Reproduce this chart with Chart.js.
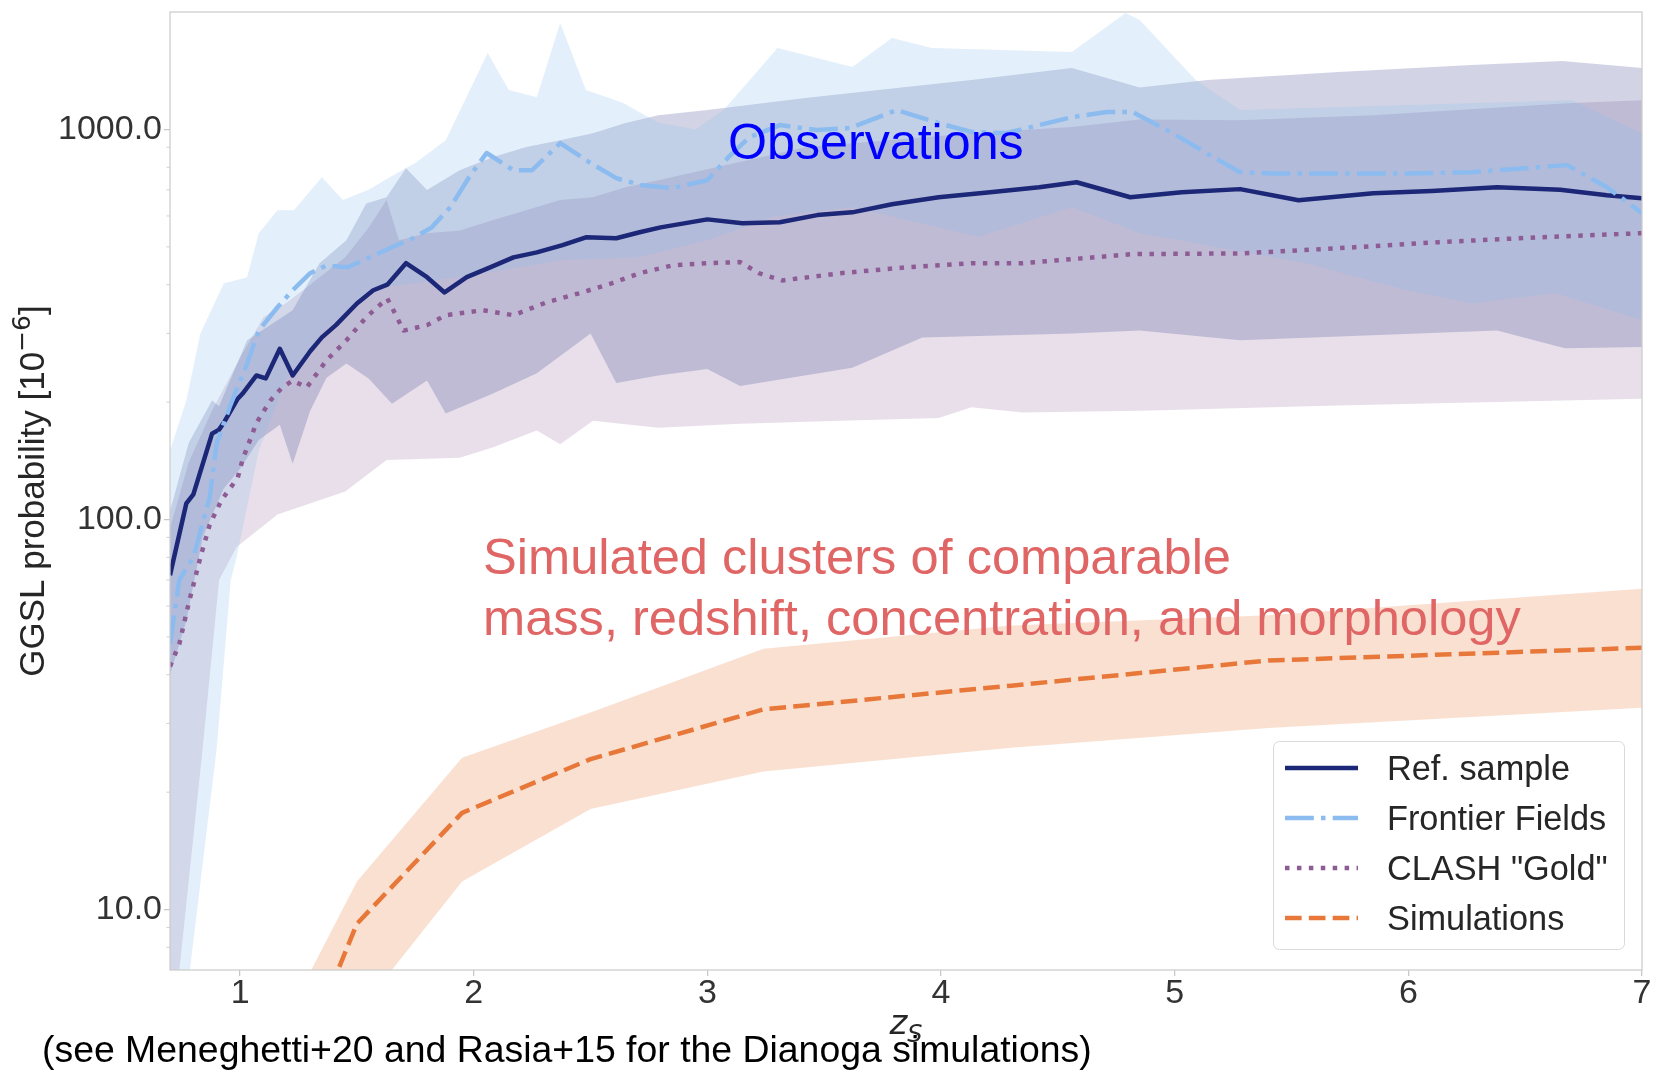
<!DOCTYPE html>
<html>
<head>
<meta charset="utf-8">
<title>GGSL probability vs source redshift</title>
<script src="https://cdn.jsdelivr.net/npm/chart.js@4.4.1/dist/chart.umd.min.js"></script>
<style>
  html, body { margin: 0; padding: 0; background: #ffffff; }
  canvas { display: block; }
</style>
</head>
<body>
<canvas id="ggsl" width="1656" height="1072" style="width:1656px;height:1072px"></canvas>
<script>
// ---- axis ticks ----
const xTicks = [1, 2, 3, 4, 5, 6, 7];
const yTicks = [10, 100, 1000];
const yMinorTicks = [8, 9, 20, 30, 40, 50, 60, 70, 80, 90, 200, 300, 400, 500, 600, 700, 800, 900];

// ---- Ref. sample: median and 1-sigma band ----
const refZ   = [0.70, 0.77, 0.80, 0.88, 0.91, 0.93, 0.99, 1.01, 1.07, 1.11, 1.17, 1.225, 1.30, 1.35, 1.41, 1.50, 1.57, 1.63, 1.71, 1.80, 1.875, 1.97, 2.07, 2.17, 2.27, 2.38, 2.48, 2.61, 2.71, 2.80, 3.00, 3.15, 3.31, 3.47, 3.62, 3.79, 3.99, 4.21, 4.42, 4.58, 4.81, 5.03, 5.28, 5.53, 5.85, 6.10, 6.38, 6.65, 6.85, 7.00];
const refMed = [72, 110, 116, 166, 170, 177, 204, 210, 234, 230, 274, 234, 270, 293, 315, 358, 387, 400, 454, 418, 382, 418, 443, 470, 484, 505, 529, 526, 545, 561, 588, 575, 578, 603, 613, 643, 670, 690, 711, 732, 670, 690, 703, 658, 686, 695, 711, 700, 678, 666];
const refHiZ = [0.70, 0.78, 0.88, 0.91, 1.03, 1.225, 1.34, 1.455, 1.54, 1.627, 1.71, 1.80, 1.94, 2.08, 2.225, 2.37, 2.51, 2.65, 2.79, 3.00, 3.42, 3.85, 4.13, 4.56, 4.85, 5.14, 5.70, 6.27, 6.66, 7.00];
const refHi  = [105, 157, 202, 195, 288, 344, 454, 520, 646, 670, 795, 699, 786, 849, 901, 938, 978, 1038, 1088, 1121, 1203, 1284, 1338, 1436, 1280, 1338, 1403, 1462, 1497, 1436];
const refLoZ = [0.70, 0.77, 0.84, 0.93, 1.00, 1.08, 1.17, 1.225, 1.30, 1.37, 1.455, 1.55, 1.65, 1.80, 1.88, 2.08, 2.27, 2.50, 2.61, 2.79, 3.00, 3.14, 3.62, 3.92, 4.56, 4.85, 5.28, 6.38, 6.67, 7.00];
const refLo  = [40, 55, 90, 120, 135, 160, 175, 139, 190, 231, 251, 230, 198, 227, 187, 210, 237, 300, 224, 234, 243, 220, 245, 293, 300, 305, 288, 305, 275, 277];

// ---- Frontier Fields ----
const ffZ   = [0.70, 0.74, 0.80, 0.87, 0.90, 0.955, 1.03, 1.08, 1.16, 1.225, 1.30, 1.37, 1.46, 1.555, 1.65, 1.74, 1.82, 1.90, 1.98, 2.055, 2.17, 2.25, 2.37, 2.50, 2.61, 2.72, 2.85, 3.00, 3.09, 3.18, 3.31, 3.47, 3.61, 3.81, 3.99, 4.13, 4.28, 4.42, 4.56, 4.71, 4.82, 4.99, 5.135, 5.28, 5.42, 5.70, 5.99, 6.27, 6.68, 6.85, 7.00];
const ffMed = [48, 70, 80, 114, 157, 194, 251, 305, 350, 387, 428, 448, 443, 470, 499, 526, 561, 632, 754, 870, 786, 786, 922, 820, 750, 719, 707, 741, 849, 955, 1026, 996, 1008, 1121, 1038, 985, 979, 1026, 1075, 1108, 1108, 979, 870, 777, 771, 771, 771, 777, 810, 711, 610];
const ffHiZ = [0.70, 0.77, 0.83, 0.93, 1.03, 1.08, 1.16, 1.23, 1.35, 1.44, 1.55, 1.65, 1.75, 1.88, 2.06, 2.15, 2.27, 2.37, 2.48, 2.64, 2.79, 2.95, 3.07, 3.30, 3.62, 3.79, 3.96, 4.56, 4.79, 4.85, 5.09, 5.28, 6.70, 7.00];
const ffHi  = [150, 202, 300, 403, 418, 542, 621, 621, 754, 659, 700, 760, 820, 938, 1570, 1262, 1210, 1875, 1262, 1168, 1040, 1000, 1121, 1617, 1445, 1716, 1617, 1579, 1989, 1908, 1338, 1121, 1188, 978];
const ffLoZ = [0.70, 0.785, 0.90, 0.96, 0.985, 1.08, 1.20, 1.35, 1.56, 1.94, 2.37, 2.71, 3.00, 3.28, 3.62, 4.16, 4.56, 4.85, 5.56, 5.99, 6.27, 6.63, 7.00];
const ffLo  = [2, 7, 26, 70, 80, 150, 230, 300, 390, 418, 462, 470, 520, 596, 632, 530, 632, 542, 454, 387, 358, 380, 324];

// ---- CLASH "Gold" ----
const clashZ   = [0.70, 0.74, 0.78, 0.83, 0.87, 0.92, 0.99, 1.01, 1.07, 1.13, 1.18, 1.225, 1.285, 1.37, 1.455, 1.54, 1.63, 1.70, 1.80, 1.88, 2.04, 2.17, 2.31, 2.45, 2.59, 2.71, 2.85, 3.00, 3.14, 3.22, 3.32, 3.57, 3.85, 4.13, 4.35, 4.56, 4.82, 5.28, 5.70, 6.13, 6.56, 7.00];
const clashMed = [42, 48, 61, 80, 97, 112, 128, 142, 177, 202, 218, 227, 218, 256, 288, 330, 369, 305, 315, 334, 344, 334, 360, 380, 403, 428, 448, 454, 457, 428, 410, 428, 443, 454, 454, 465, 479, 481, 496, 514, 529, 542];
const clashHiZ = [0.70, 0.78, 0.88, 1.00, 1.10, 1.20, 1.30, 1.45, 1.55, 1.627, 1.68, 1.80, 1.94, 2.08, 2.225, 2.37, 2.51, 2.65, 2.79, 3.42, 4.13, 4.56, 4.85, 5.28, 5.85, 6.70, 7.00];
const clashHi  = [95, 140, 190, 260, 330, 360, 400, 470, 560, 659, 520, 542, 551, 585, 621, 659, 670, 711, 741, 900, 978, 1015, 1060, 1056, 1088, 1168, 1188];
const clashLoZ = [0.70, 0.74, 0.84, 0.91, 0.985, 1.16, 1.45, 1.627, 1.94, 2.08, 2.27, 2.37, 2.51, 2.79, 3.14, 3.57, 3.99, 4.13, 4.35, 4.85, 5.70, 7.00];
const clashLo  = [2, 7, 26, 70, 85, 103, 118, 142, 144, 153, 169, 156, 179, 172, 176, 179, 182, 194, 188, 190, 196, 204];

// ---- Simulations ----
const simZ   = [1.0, 1.5, 1.95, 2.5, 3.24, 4.3, 5.4, 7.0];
const simMed = [1.7, 9.2, 17.7, 24.3, 32.6, 37.5, 43.5, 46.9];
const simLo  = [1.0, 5.4, 11.8, 18.1, 22.6, 26.0, 29.2, 32.9];
const simHi  = [3.1, 11.8, 24.5, 32.0, 46.6, 53.5, 56.8, 66.4];

// ---- styling ----
const FONT = "'Liberation Sans', Arial, Helvetica, sans-serif";
const MATH = "'DejaVu Sans', sans-serif";
const C_REF = '#1c2777', C_FF = '#8cbcef', C_CLASH = '#8e5c94', C_SIM = '#e8783a';
const LW = 4.5;

const pts = (zs, vs) => zs.map((z, i) => ({ x: z, y: vs[i] }));
// closed outline: upper edge left->right, then lower edge right->left
const outline = (hiZ, hi, loZ, lo) => pts(hiZ, hi).concat(pts(loZ, lo).reverse());

const band = (data, color) => ({
  data, fill: 'shape', backgroundColor: color, borderColor: 'rgba(0,0,0,0)',
  borderWidth: 0, pointRadius: 0, tension: 0, order: 10, inLegend: false
});
const curve = (label, data, color, dash, order) => ({
  label, data, borderColor: color, borderWidth: LW, borderDash: dash,
  borderJoinStyle: 'round', borderCapStyle: 'butt', pointRadius: 0,
  fill: false, tension: 0, order, inLegend: true
});

const datasets = [
  band(outline(ffHiZ, ffHi, ffLoZ, ffLo), 'rgba(140,190,235,0.24)'),
  band(outline(refHiZ, refHi, refLoZ, refLo), 'rgba(31,42,124,0.2)'),
  band(outline(clashHiZ, clashHi, clashLoZ, clashLo), 'rgba(142,93,148,0.2)'),
  band(outline(simZ, simHi, simZ, simLo), 'rgba(232,121,58,0.23)'),
  curve('Ref. sample', pts(refZ, refMed), C_REF, [], 3),
  curve('Frontier Fields', pts(ffZ, ffMed), C_FF, [6.4 * LW, 1.6 * LW, 1 * LW, 1.6 * LW], 2),
  curve('CLASH "Gold"', pts(clashZ, clashMed), C_CLASH, [1 * LW, 1.65 * LW], 4),
  curve('Simulations', pts(simZ, simMed), C_SIM, [3.7 * LW, 1.6 * LW], 1)
];

const decorations = {
  id: 'decorations',
  afterDraw(chart) {
    const { ctx, chartArea: a, scales: { y } } = chart;
    ctx.save();

    // plot frame
    ctx.strokeStyle = '#cccccc';
    ctx.lineWidth = 1.25;
    ctx.strokeRect(a.left, a.top, a.right - a.left, a.bottom - a.top);

    // minor log ticks
    ctx.strokeStyle = '#cfcfcf';
    ctx.lineWidth = 1;
    yMinorTicks.forEach(v => {
      const py = y.getPixelForValue(v);
      if (py < a.top || py > a.bottom) return;
      ctx.beginPath();
      ctx.moveTo(a.left - 3.5, py);
      ctx.lineTo(a.left, py);
      ctx.stroke();
    });

    // y-axis title with superscript exponent
    const yc = (a.top + a.bottom) / 2;
    ctx.save();
    ctx.translate(44, yc);
    ctx.rotate(-Math.PI / 2);
    ctx.fillStyle = '#262626';
    ctx.textBaseline = 'alphabetic';
    const t1 = 'GGSL probability [10', t2 = '\u22126', t3 = ']';
    ctx.font = `35px ${FONT}`;
    const w1 = ctx.measureText(t1).width, w3 = ctx.measureText(t3).width;
    ctx.font = `25px ${MATH}`;
    const w2 = ctx.measureText(t2).width;
    let px = -(w1 + w2 + w3) / 2;
    ctx.font = `35px ${FONT}`;
    ctx.fillText(t1, px, 0); px += w1;
    ctx.font = `25px ${MATH}`;
    ctx.fillText(t2, px, -14); px += w2;
    ctx.font = `35px ${FONT}`;
    ctx.fillText(t3, px, 0);
    ctx.restore();

    // x-axis title: z_S
    const xc = (a.left + a.right) / 2;
    ctx.fillStyle = '#262626';
    ctx.textBaseline = 'alphabetic';
    ctx.font = `italic 34px ${MATH}`;
    const wz = ctx.measureText('z').width;
    ctx.font = `italic 24px ${MATH}`;
    const ws = ctx.measureText('S').width;
    ctx.font = `italic 34px ${MATH}`;
    ctx.fillText('z', xc - (wz + ws) / 2, 1034);
    ctx.font = `italic 24px ${MATH}`;
    ctx.fillText('S', xc - (wz + ws) / 2 + wz, 1042);

    // annotations
    ctx.font = `50.2px ${FONT}`;
    ctx.fillStyle = '#0000ff';
    ctx.fillText('Observations', 728, 159);
    ctx.font = `50.6px ${FONT}`;
    ctx.fillStyle = '#e06666';
    ctx.fillText('Simulated clusters of comparable', 483, 574);
    ctx.fillText('mass, redshift, concentration, and morphology', 483, 635);

    // footnote
    ctx.font = `37.4px ${FONT}`;
    ctx.fillStyle = '#000000';
    ctx.fillText('(see Meneghetti+20 and Rasia+15 for the Dianoga simulations)', 42, 1062);

    // legend
    const lx = 1273.5, ly = 741.5, lw = 351, lh = 208, r = 6;
    ctx.beginPath();
    ctx.moveTo(lx + r, ly);
    ctx.arcTo(lx + lw, ly, lx + lw, ly + lh, r);
    ctx.arcTo(lx + lw, ly + lh, lx, ly + lh, r);
    ctx.arcTo(lx, ly + lh, lx, ly, r);
    ctx.arcTo(lx, ly, lx + lw, ly, r);
    ctx.closePath();
    ctx.fillStyle = 'rgba(255,255,255,0.8)';
    ctx.fill();
    ctx.strokeStyle = '#d9d9d9';
    ctx.lineWidth = 1;
    ctx.stroke();

    const items = chart.data.datasets.filter(d => d.inLegend);
    items.forEach((d, i) => {
      const ry = 768 + i * 50;
      ctx.strokeStyle = d.borderColor;
      ctx.lineWidth = LW;
      ctx.lineCap = 'butt';
      ctx.setLineDash(d.borderDash);
      ctx.beginPath();
      ctx.moveTo(1285, ry);
      ctx.lineTo(1358, ry);
      ctx.stroke();
      ctx.setLineDash([]);
      ctx.fillStyle = '#262626';
      ctx.font = `34.3px ${FONT}`;
      ctx.fillText(d.label, 1387, ry + 11.5);
    });

    ctx.restore();
  }
};

new Chart(document.getElementById('ggsl'), {
  type: 'line',
  data: { datasets },
  plugins: [decorations],
  options: {
    responsive: false,
    animation: false,
    devicePixelRatio: 1,
    layout: { padding: { top: 12, right: 14, bottom: 0, left: 0 } },
    plugins: {
      legend: { display: false },
      tooltip: { enabled: false },
      filler: { drawTime: 'beforeDatasetsDraw' }
    },
    scales: {
      x: {
        type: 'linear', min: 0.7, max: 7,
        afterBuildTicks: s => { s.ticks = xTicks.map(v => ({ value: v })); },
        afterFit: s => { s.height = 102; s.paddingLeft = 0; },
        ticks: { font: { family: FONT, size: 34 }, color: '#333333', padding: -3, maxRotation: 0, callback: v => String(v) },
        grid: { drawOnChartArea: false, drawTicks: true, tickLength: 6, color: '#c8c8c8', lineWidth: 1.25 },
        border: { display: false }
      },
      y: {
        type: 'logarithmic', min: 7, max: 2000,
        afterBuildTicks: s => { s.ticks = yTicks.map(v => ({ value: v })); },
        afterFit: s => { s.width = 170; s.paddingTop = 0; s.paddingBottom = 0; },
        ticks: { font: { family: FONT, size: 34 }, color: '#333333', padding: 2, callback: v => Number(v).toFixed(1) },
        grid: { drawOnChartArea: false, drawTicks: true, tickLength: 6, color: '#c8c8c8', lineWidth: 1.25 },
        border: { display: false }
      }
    }
  }
});
</script>
</body>
</html>
